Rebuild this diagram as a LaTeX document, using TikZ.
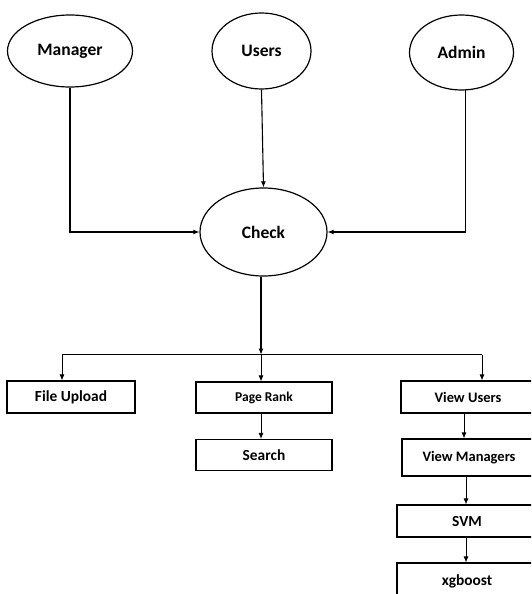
\documentclass[tikz,border=0pt]{standalone}
\usepackage{fontspec}
\setmainfont{Carlito}
\usetikzlibrary{shapes.geometric,arrows.meta}
\begin{document}
\begin{tikzpicture}[x=1pt,y=-1pt,
  every node/.style={font=\bfseries},
  oval/.style={draw,ellipse,line width=1.2pt,inner sep=0pt,font=\fontsize{17.5}{20}\selectfont\bfseries},
  box/.style={draw,rectangle,line width=1.2pt,inner sep=0pt,font=\fontsize{15.4}{18}\selectfont\bfseries},
  arr/.style={line width=1.1pt,-{Latex[length=6pt,width=5pt]}},
  thinarr/.style={line width=0.8pt,-{Latex[length=6pt,width=5pt]}}]
\useasboundingbox (0,0) rectangle (531,594);
\clip (0,0) rectangle (531,594);
\fill[white] (0,0) rectangle (531,594);
% ellipses
\node[oval,minimum width=125pt,minimum height=72pt] (manager) at (70,51) {Manager};
\node[oval,minimum width=99pt,minimum height=76pt] (users) at (261.5,51) {Users};
\node[oval,minimum width=104pt,minimum height=75pt] (admin) at (461.5,52.5) {Admin};
\node[oval,minimum width=127pt,minimum height=88pt] (check) at (263.5,232) {Check};
% boxes
\node[box,minimum width=128pt,minimum height=32pt] (upload) at (71,397) {File Upload};
\node[box,minimum width=136pt,minimum height=31pt,font=\fontsize{13.5}{16}\selectfont\bfseries] (rank) at (264,397.5) {Page Rank};
\node[box,minimum width=136pt,minimum height=31pt] (search) at (264,455) {Search};
\node[box,minimum width=134pt,minimum height=32pt,font=\fontsize{14.5}{17}\selectfont\bfseries] (vusers) at (468,397) {View Users};
\node[box,minimum width=134pt,minimum height=37pt,font=\fontsize{14.5}{17}\selectfont\bfseries] (vmanagers) at (469,457.5) {View Managers};
\node[box,minimum width=140pt,minimum height=32pt] (svm) at (467,521) {SVM};
\node[box,minimum width=140pt,minimum height=37pt] (xgb) at (467,581.5) {xgboost};
% bus
\coordinate (busL) at (62,354.6);
\coordinate (busM) at (261,354.6);
\coordinate (busR) at (482,354.6);
% connectors
\draw[arr] (manager.south) |- (check.west);
\draw[arr] (admin.-84) |- (check.east);
\draw[arr] (users.south) -- (check.north);
\draw[arr] (check.south -| busM) -- (busM);
\draw[line width=1.1pt] (busL) -- (busR);
\draw[thinarr] (busL) -- (busL |- upload.north);
\draw[thinarr] (busM) -- (busM |- rank.north);
\draw[thinarr] (busR) -- (busR |- vusers.north);
\draw[thinarr] (rank.south -| busM) -- (search.north -| busM);
\draw[thinarr] ([xshift=-4pt]vusers.south) -- ([xshift=-5pt]vmanagers.north);
\draw[thinarr] ([xshift=-3pt]vmanagers.south) -- ([xshift=-1pt]svm.north);
\draw[thinarr] ([xshift=-1pt]svm.south) -- ([xshift=-1pt]xgb.north);
\end{tikzpicture}
\end{document}
